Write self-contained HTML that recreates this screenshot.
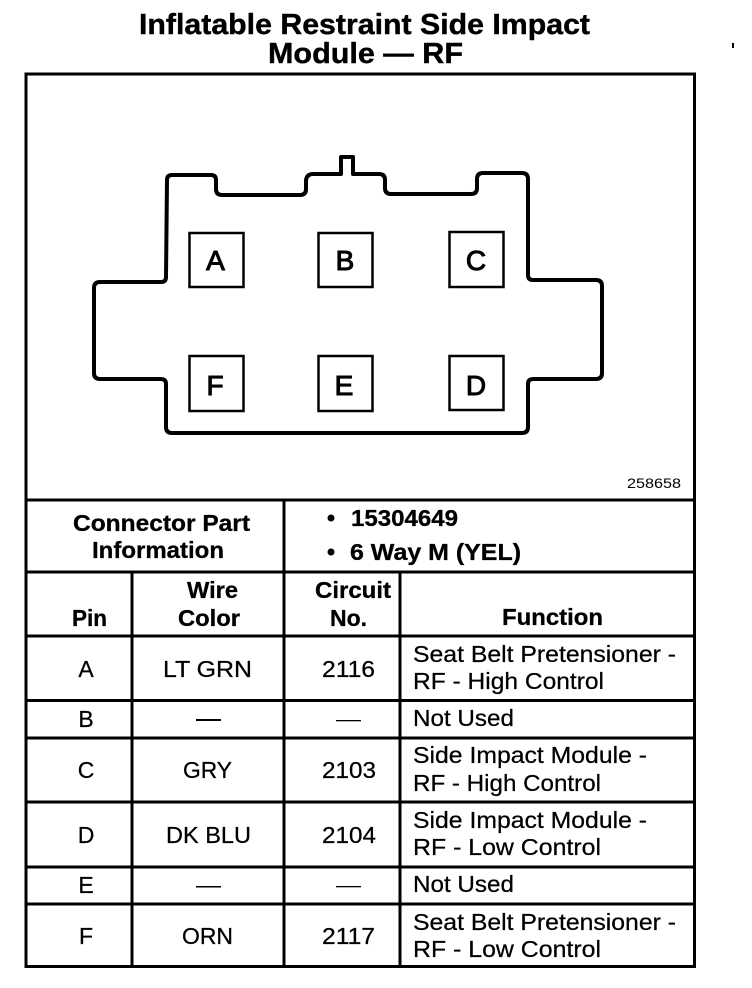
<!DOCTYPE html>
<html><head><meta charset="utf-8"><style>
html,body{margin:0;padding:0;background:#fff;width:752px;height:988px;overflow:hidden}
svg{display:block}
text{font-family:"Liberation Sans",sans-serif;fill:#000}
.b{font-weight:bold;font-size:23px;stroke:#000;stroke-width:.3}
.r{font-size:23px;stroke:#000;stroke-width:.25}
.p{font-size:28px;stroke:#000;stroke-width:1;text-anchor:middle}
.t{font-weight:bold;font-size:29px;stroke:#000;stroke-width:.4}
</style></head><body>
<svg width="752" height="988" viewBox="0 0 752 988" xmlns="http://www.w3.org/2000/svg">
<rect x="732" y="43" width="2" height="5" fill="#000"/>
<text class="t" x="139" y="34" textLength="451" lengthAdjust="spacingAndGlyphs">Inflatable Restraint Side Impact</text>
<text class="t" x="268" y="63" textLength="195" lengthAdjust="spacingAndGlyphs">Module — RF</text>

<g fill="none" stroke="#000" stroke-width="3">
<rect x="26" y="74" width="668.500" height="892.500"/>
<path d="M26 500H694.500M26 572H694.500M26 636H694.500M26 700.500H694.500M26 738H694.500M26 802H694.500M26 867H694.500M26 904H694.500"/>
<path d="M132 572V966.500M284 500V966.500M400 572V966.500"/>
</g>

<path fill="none" stroke="#000" stroke-width="4" stroke-linejoin="round" d="M167 180Q167 175 172 175H211Q216 175 216 180V189Q216 195 222 195H300Q306 195 306 189V180Q307 174 313 174H341V157H353V174H379Q385 174 385 180V188Q385 194 391 194H471Q477 194 477 188V179Q477 173 483 173H522Q528 173 528 179V275Q528 280 533 280H596Q602 280 602 286V373Q602 379 596 379H533Q528 379 528 384V427Q528 433 522 433H172Q166 433 166 427V384Q166 379 161 379H100Q94 379 94 373V288Q94 282 100 282H161Q166 282 166 277Z"/>

<g fill="none" stroke="#000" stroke-width="2.500">
<rect x="189.500" y="233" width="54" height="54"/>
<rect x="318.500" y="233" width="54" height="54"/>
<rect x="449.500" y="232" width="54" height="55"/>
<rect x="189.500" y="356" width="54" height="55"/>
<rect x="318.500" y="356" width="54" height="55"/>
<rect x="449.500" y="356" width="54" height="54"/>
</g>
<text class="p" x="215.500" y="270">A</text>
<text class="p" x="345" y="270">B</text>
<text class="p" x="476" y="270">C</text>
<text class="p" x="215" y="395">F</text>
<text class="p" x="344" y="395">E</text>
<text class="p" x="476" y="395">D</text>

<text x="627" y="488" font-size="14" textLength="54" lengthAdjust="spacingAndGlyphs">258658</text>

<text class="b" x="73" y="531" textLength="177" lengthAdjust="spacingAndGlyphs">Connector Part</text>
<text class="b" x="92" y="558" textLength="132" lengthAdjust="spacingAndGlyphs">Information</text>
<circle cx="331" cy="518" r="3.500"/>
<circle cx="331" cy="552" r="3.500"/>
<text class="b" x="351" y="526" textLength="107" lengthAdjust="spacingAndGlyphs">15304649</text>
<text class="b" x="350" y="560" textLength="171" lengthAdjust="spacingAndGlyphs">6 Way M (YEL)</text>

<text class="b" x="72" y="626" textLength="35" lengthAdjust="spacingAndGlyphs">Pin</text>
<text class="b" x="187" y="598" textLength="51" lengthAdjust="spacingAndGlyphs">Wire</text>
<text class="b" x="178" y="626" textLength="62" lengthAdjust="spacingAndGlyphs">Color</text>
<text class="b" x="315" y="598" textLength="76" lengthAdjust="spacingAndGlyphs">Circuit</text>
<text class="b" x="330" y="626" textLength="37" lengthAdjust="spacingAndGlyphs">No.</text>
<text class="b" x="502" y="625" textLength="101" lengthAdjust="spacingAndGlyphs">Function</text>

<g text-anchor="middle">
<text class="r" x="86" y="677">A</text>
<text class="r" x="86" y="727">B</text>
<text class="r" x="86" y="778">C</text>
<text class="r" x="86" y="843">D</text>
<text class="r" x="86" y="893">E</text>
<text class="r" x="86" y="944">F</text>
</g>

<text class="r" x="163" y="677" textLength="89" lengthAdjust="spacingAndGlyphs">LT GRN</text>
<text class="r" x="183" y="778" textLength="49" lengthAdjust="spacingAndGlyphs">GRY</text>
<text class="r" x="166" y="843" textLength="85" lengthAdjust="spacingAndGlyphs">DK BLU</text>
<text class="r" x="182" y="944" textLength="51" lengthAdjust="spacingAndGlyphs">ORN</text>
<text class="r" x="322" y="677" textLength="53" lengthAdjust="spacingAndGlyphs">2116</text>
<text class="r" x="322" y="778" textLength="54" lengthAdjust="spacingAndGlyphs">2103</text>
<text class="r" x="322" y="843" textLength="54" lengthAdjust="spacingAndGlyphs">2104</text>
<text class="r" x="322" y="944" textLength="53" lengthAdjust="spacingAndGlyphs">2117</text>

<rect x="196" y="719" width="25" height="2" fill="#000"/>
<rect x="336" y="720" width="25" height="1.300" fill="#000"/>
<rect x="196" y="886" width="25" height="1.500" fill="#000"/>
<rect x="336" y="886" width="25" height="1.300" fill="#000"/>

<text class="r" x="413" y="662" textLength="263" lengthAdjust="spacingAndGlyphs">Seat Belt Pretensioner -</text>
<text class="r" x="413" y="689" textLength="191" lengthAdjust="spacingAndGlyphs">RF - High Control</text>
<text class="r" x="413" y="726" textLength="101" lengthAdjust="spacingAndGlyphs">Not Used</text>
<text class="r" x="413" y="763" textLength="234" lengthAdjust="spacingAndGlyphs">Side Impact Module -</text>
<text class="r" x="413" y="791" textLength="188" lengthAdjust="spacingAndGlyphs">RF - High Control</text>
<text class="r" x="413" y="828" textLength="234" lengthAdjust="spacingAndGlyphs">Side Impact Module -</text>
<text class="r" x="413" y="855" textLength="188" lengthAdjust="spacingAndGlyphs">RF - Low Control</text>
<text class="r" x="413" y="892" textLength="101" lengthAdjust="spacingAndGlyphs">Not Used</text>
<text class="r" x="413" y="930" textLength="263" lengthAdjust="spacingAndGlyphs">Seat Belt Pretensioner -</text>
<text class="r" x="413" y="957" textLength="188" lengthAdjust="spacingAndGlyphs">RF - Low Control</text>
</svg>
</body></html>
